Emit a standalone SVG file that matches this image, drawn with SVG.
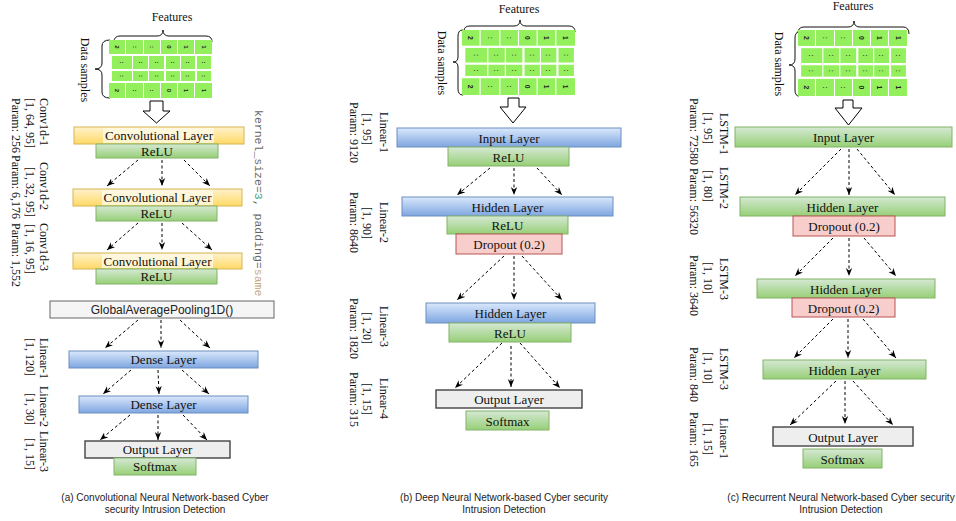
<svg xmlns="http://www.w3.org/2000/svg" width="956" height="521" viewBox="0 0 956 521">
<style>
.nt{font-family:"Liberation Serif","Times New Roman",serif;font-size:13px;fill:#111;text-anchor:middle}
.lb{font-family:"Liberation Serif","Times New Roman",serif;font-size:12px;fill:#111}
.ft{font-family:"Liberation Serif","Times New Roman",serif;font-size:12px;fill:#111;text-anchor:middle}
.cap{font-family:"Liberation Sans",Arial,sans-serif;font-size:10px;fill:#222;text-anchor:middle}
.cd{font-family:"Liberation Sans",Arial,sans-serif;font-size:6px;font-weight:bold;fill:#222;text-anchor:middle;dominant-baseline:central}
.cell{fill:#93f05c}
.brace{fill:none;stroke:#111;stroke-width:1}
.barrow{fill:#fff;stroke:#000;stroke-width:1}
.yel{fill:url(#gy);stroke:#d6b656}
.grn{fill:url(#gg);stroke:#82b366}
.blu{fill:url(#gb);stroke:#6c8ebf}
.red{fill:#f8cecc;stroke:#b85450}
.out{fill:#eeeeee;stroke:#444;stroke-width:1.4}
.gap{fill:#f5f5f5;stroke:#666}
.lbg{fill:#fffbea;opacity:0.75}
.con line{stroke:#000;stroke-width:1;stroke-dasharray:3 2.5;marker-end:url(#ah)}
.mono{font-family:"Liberation Mono","Courier New",monospace;font-size:11.5px;fill:#666}
</style>
<defs>
<linearGradient id="gy" x1="0" y1="0" x2="0" y2="1"><stop offset="0" stop-color="#fff2cc"/><stop offset="1" stop-color="#ffd966"/></linearGradient>
<linearGradient id="gg" x1="0" y1="0" x2="0" y2="1"><stop offset="0" stop-color="#d5e8d4"/><stop offset="1" stop-color="#97d077"/></linearGradient>
<linearGradient id="gb" x1="0" y1="0" x2="0" y2="1"><stop offset="0" stop-color="#dae8fc"/><stop offset="1" stop-color="#7ea6e0"/></linearGradient>
<marker id="ah" viewBox="0 0 10 10" refX="10" refY="5" markerWidth="8" markerHeight="8" orient="auto" markerUnits="userSpaceOnUse"><path d="M0,1 L10,5 L0,9 L3,5 z" fill="#000"/></marker>
</defs>
<rect width="956" height="521" fill="#fff"/>

<!-- ================= PANEL A ================= -->
<g id="a-input">
<text class="ft" x="172" y="21">Features</text>
<path class="brace" d="M114,42 Q114,36 120,36 L157,36 Q163,36 163,30 Q163,36 169,36 L206,36 Q212,36 212,42"/>
<path class="brace" d="M110,40 Q102,40 102,46 L102,63 Q102,69 95,69 Q102,69 102,75 L102,92 Q102,98 110,98"/>
<text class="ft" transform="translate(81,70) rotate(90)">Data samples</text>
<g transform="translate(109,40)">
<rect class="cell" x="0" y="0" width="16" height="14"/><rect class="cell" x="17" y="0" width="17" height="14"/><rect class="cell" x="35" y="0" width="16" height="14"/><rect class="cell" x="52" y="0" width="16" height="14"/><rect class="cell" x="69" y="0" width="16" height="14"/><rect class="cell" x="86" y="0" width="17" height="14"/>
<rect class="cell" x="3" y="16" width="20" height="13"/><rect class="cell" x="24" y="16" width="15" height="13"/><rect class="cell" x="40" y="16" width="15" height="13"/><rect class="cell" x="57" y="16" width="14" height="13"/><rect class="cell" x="72" y="16" width="14" height="13"/><rect class="cell" x="88" y="16" width="14" height="13"/>
<rect class="cell" x="3" y="31" width="20" height="10"/><rect class="cell" x="24" y="31" width="15" height="10"/><rect class="cell" x="40" y="31" width="15" height="10"/><rect class="cell" x="57" y="31" width="14" height="10"/><rect class="cell" x="72" y="31" width="14" height="10"/><rect class="cell" x="88" y="31" width="14" height="10"/>
<rect class="cell" x="0" y="43" width="16" height="15"/><rect class="cell" x="17" y="43" width="17" height="15"/><rect class="cell" x="35" y="43" width="16" height="15"/><rect class="cell" x="52" y="43" width="16" height="15"/><rect class="cell" x="69" y="43" width="16" height="15"/><rect class="cell" x="86" y="43" width="17" height="15"/>
<text class="cd" transform="translate(8,7) rotate(90)">2</text><text class="cd" transform="translate(25.5,7) rotate(90)">:</text><text class="cd" transform="translate(43,7) rotate(90)">:</text><text class="cd" transform="translate(60,7) rotate(90)">0</text><text class="cd" transform="translate(77,7) rotate(90)">1</text><text class="cd" transform="translate(94.5,7) rotate(90)">1</text>
<text class="cd" transform="translate(13,22.5) rotate(90)">:</text><text class="cd" transform="translate(31.5,22.5) rotate(90)">:</text><text class="cd" transform="translate(47.5,22.5) rotate(90)">:</text><text class="cd" transform="translate(64,22.5) rotate(90)">:</text><text class="cd" transform="translate(79,22.5) rotate(90)">:</text><text class="cd" transform="translate(95,22.5) rotate(90)">:</text>
<text class="cd" transform="translate(13,36) rotate(90)">:</text><text class="cd" transform="translate(31.5,36) rotate(90)">:</text><text class="cd" transform="translate(47.5,36) rotate(90)">:</text><text class="cd" transform="translate(64,36) rotate(90)">:</text><text class="cd" transform="translate(79,36) rotate(90)">:</text><text class="cd" transform="translate(95,36) rotate(90)">:</text>
<text class="cd" transform="translate(8,50.5) rotate(90)">2</text><text class="cd" transform="translate(25.5,50.5) rotate(90)">:</text><text class="cd" transform="translate(43,50.5) rotate(90)">:</text><text class="cd" transform="translate(60,50.5) rotate(90)">0</text><text class="cd" transform="translate(77,50.5) rotate(90)">1</text><text class="cd" transform="translate(94.5,50.5) rotate(90)">1</text>
</g>
<path class="barrow" d="M150,101 L163,101 L163,111 L170,111 L156.5,123 L143,111 L150,111 Z"/>
</g>

<g id="a-conv1"><rect class="yel" x="74" y="127" width="170" height="17"/><rect class="lbg" x="103" y="128" width="111" height="15"/><text class="nt" x="159" y="140">Convolutional Layer</text></g>
<g id="a-relu1"><rect class="grn" x="96" y="144" width="122" height="14"/><text class="nt" x="157" y="155.5">ReLU</text></g>
<g id="a-conv2"><rect class="yel" x="73" y="189" width="169" height="17"/><rect class="lbg" x="102" y="190" width="111" height="15"/><text class="nt" x="157.5" y="202">Convolutional Layer</text></g>
<g id="a-relu2"><rect class="grn" x="96" y="206" width="121" height="15"/><text class="nt" x="156.5" y="218">ReLU</text></g>
<g id="a-conv3"><rect class="yel" x="73" y="253" width="169" height="16"/><rect class="lbg" x="102" y="254" width="111" height="14"/><text class="nt" x="157.5" y="265.5">Convolutional Layer</text></g>
<g id="a-relu3"><rect class="grn" x="96" y="269" width="121" height="15"/><text class="nt" x="156.5" y="281">ReLU</text></g>
<g id="a-gap"><rect class="gap" x="50" y="301" width="224" height="17"/><text x="162" y="314" style="font-family:'Liberation Sans',Arial,sans-serif;font-size:12px;fill:#222;text-anchor:middle">GlobalAveragePooling1D()</text></g>
<g id="a-dense1"><rect class="blu" x="69" y="351" width="189" height="17"/><text class="nt" x="163.5" y="364">Dense Layer</text></g>
<g id="a-dense2"><rect class="blu" x="79" y="396" width="169" height="17"/><text class="nt" x="163.5" y="409">Dense Layer</text></g>
<g id="a-output"><rect class="out" x="85" y="441" width="145" height="17"/><text class="nt" x="157.5" y="454">Output Layer</text></g>
<g id="a-softmax"><rect class="grn" x="114" y="458" width="82" height="17"/><text class="nt" x="155" y="471">Softmax</text></g>

<g id="a-labels">
<text class="lb" transform="translate(39.5,98) rotate(90)">Conv1d-1</text>
<text class="lb" transform="translate(26,98) rotate(90)">[1, 64, 95]</text>
<text class="lb" transform="translate(12,98) rotate(90)">Param: 256</text>
<text class="lb" transform="translate(39.5,162) rotate(90)">Conv1d-2</text>
<text class="lb" transform="translate(26,167) rotate(90)">[1, 32, 95]</text>
<text class="lb" transform="translate(12,155) rotate(90)">Param: 6,176</text>
<text class="lb" transform="translate(39.5,223) rotate(90)">Conv1d-3</text>
<text class="lb" transform="translate(26,224) rotate(90)">[1, 16, 95]</text>
<text class="lb" transform="translate(12,223) rotate(90)">Param: 1,552</text>
<text class="lb" transform="translate(39.5,338) rotate(90)">Linear-1</text>
<text class="lb" transform="translate(26,338) rotate(90)">[1, 120]</text>
<text class="lb" transform="translate(39.5,386) rotate(90)">Linear-2</text>
<text class="lb" transform="translate(26,393) rotate(90)">[1, 30]</text>
<text class="lb" transform="translate(39.5,431) rotate(90)">Linear-3</text>
<text class="lb" transform="translate(26,438) rotate(90)">[1, 15]</text>
<text class="mono" transform="translate(255,110) rotate(90)">kernel_size=<tspan fill="#3aa58a">3</tspan>, padding=<tspan fill="#c4a679">same</tspan></text>
</g>
<text class="cap" x="165" y="501">(a) Convolutional Neural Network-based Cyber</text>
<text class="cap" x="165" y="513">security Intrusion Detection</text>

<!-- ================= PANEL B ================= -->
<g id="b-input">
<text class="ft" x="519" y="13">Features</text>
<path class="brace" d="M464,31 Q464,26 470,26 L514,26 Q520,26 520,20 Q520,26 526,26 L569,26 Q575,26 575,32"/>
<path class="brace" d="M463,30 Q458,30 458,36 L458,57 Q458,62 453,62 Q458,62 458,67 L458,89 Q458,95 463,95"/>
<text class="ft" transform="translate(438,63) rotate(90)">Data samples</text>
<g transform="translate(462,30) scale(1.097,1.121)">
<rect class="cell" x="0" y="0" width="16" height="14"/><rect class="cell" x="17" y="0" width="17" height="14"/><rect class="cell" x="35" y="0" width="16" height="14"/><rect class="cell" x="52" y="0" width="16" height="14"/><rect class="cell" x="69" y="0" width="16" height="14"/><rect class="cell" x="86" y="0" width="17" height="14"/>
<rect class="cell" x="3" y="16" width="20" height="13"/><rect class="cell" x="24" y="16" width="15" height="13"/><rect class="cell" x="40" y="16" width="15" height="13"/><rect class="cell" x="57" y="16" width="14" height="13"/><rect class="cell" x="72" y="16" width="14" height="13"/><rect class="cell" x="88" y="16" width="14" height="13"/>
<rect class="cell" x="3" y="31" width="20" height="10"/><rect class="cell" x="24" y="31" width="15" height="10"/><rect class="cell" x="40" y="31" width="15" height="10"/><rect class="cell" x="57" y="31" width="14" height="10"/><rect class="cell" x="72" y="31" width="14" height="10"/><rect class="cell" x="88" y="31" width="14" height="10"/>
<rect class="cell" x="0" y="43" width="16" height="15"/><rect class="cell" x="17" y="43" width="17" height="15"/><rect class="cell" x="35" y="43" width="16" height="15"/><rect class="cell" x="52" y="43" width="16" height="15"/><rect class="cell" x="69" y="43" width="16" height="15"/><rect class="cell" x="86" y="43" width="17" height="15"/>
<text class="cd" transform="translate(8,7) rotate(90)">2</text><text class="cd" transform="translate(25.5,7) rotate(90)">:</text><text class="cd" transform="translate(43,7) rotate(90)">:</text><text class="cd" transform="translate(60,7) rotate(90)">0</text><text class="cd" transform="translate(77,7) rotate(90)">1</text><text class="cd" transform="translate(94.5,7) rotate(90)">1</text>
<text class="cd" transform="translate(13,22.5) rotate(90)">:</text><text class="cd" transform="translate(31.5,22.5) rotate(90)">:</text><text class="cd" transform="translate(47.5,22.5) rotate(90)">:</text><text class="cd" transform="translate(64,22.5) rotate(90)">:</text><text class="cd" transform="translate(79,22.5) rotate(90)">:</text><text class="cd" transform="translate(95,22.5) rotate(90)">:</text>
<text class="cd" transform="translate(13,36) rotate(90)">:</text><text class="cd" transform="translate(31.5,36) rotate(90)">:</text><text class="cd" transform="translate(47.5,36) rotate(90)">:</text><text class="cd" transform="translate(64,36) rotate(90)">:</text><text class="cd" transform="translate(79,36) rotate(90)">:</text><text class="cd" transform="translate(95,36) rotate(90)">:</text>
<text class="cd" transform="translate(8,50.5) rotate(90)">2</text><text class="cd" transform="translate(25.5,50.5) rotate(90)">:</text><text class="cd" transform="translate(43,50.5) rotate(90)">:</text><text class="cd" transform="translate(60,50.5) rotate(90)">0</text><text class="cd" transform="translate(77,50.5) rotate(90)">1</text><text class="cd" transform="translate(94.5,50.5) rotate(90)">1</text>
</g>
<path class="barrow" d="M508,98 L519,98 L519,107 L526,107 L513,123 L500,107 L508,107 Z"/>
</g>

<g id="b-inputlayer"><rect class="blu" x="397" y="128" width="224" height="19"/><text class="nt" x="509" y="142.5">Input Layer</text></g>
<g id="b-relu1"><rect class="grn" x="448" y="147" width="121" height="19"/><text class="nt" x="508.5" y="161.5">ReLU</text></g>
<g id="b-hidden1"><rect class="blu" x="402" y="197" width="211" height="19"/><text class="nt" x="507.5" y="211.5">Hidden Layer</text></g>
<g id="b-relu2"><rect class="grn" x="447" y="216" width="121" height="18"/><text class="nt" x="507.5" y="230">ReLU</text></g>
<g id="b-dropout"><rect class="red" x="456" y="234" width="106" height="20"/><text class="nt" x="509" y="248.5">Dropout (0.2)</text></g>
<g id="b-hidden2"><rect class="blu" x="426" y="303" width="169" height="20"/><text class="nt" x="510.5" y="317.5">Hidden Layer</text></g>
<g id="b-relu3"><rect class="grn" x="449" y="323" width="122" height="19"/><text class="nt" x="510" y="337.5">ReLU</text></g>
<g id="b-output"><rect class="out" x="436" y="390" width="146" height="18"/><text class="nt" x="509" y="404">Output Layer</text></g>
<g id="b-softmax"><rect class="grn" x="466" y="411" width="83" height="19"/><text class="nt" x="507.5" y="425.5">Softmax</text></g>

<g id="b-labels">
<text class="lb" transform="translate(379.5,112) rotate(90)">Linear-1</text>
<text class="lb" transform="translate(363,113) rotate(90)">[1, 95]</text>
<text class="lb" transform="translate(350,102) rotate(90)">Param: 9120</text>
<text class="lb" transform="translate(379.5,202) rotate(90)">Linear-2</text>
<text class="lb" transform="translate(363,207) rotate(90)">[1, 90]</text>
<text class="lb" transform="translate(350,192) rotate(90)">Param: 8640</text>
<text class="lb" transform="translate(379.5,306) rotate(90)">Linear-3</text>
<text class="lb" transform="translate(363,312) rotate(90)">[1, 20]</text>
<text class="lb" transform="translate(350,298) rotate(90)">Param: 1820</text>
<text class="lb" transform="translate(379.5,378) rotate(90)">Linear-4</text>
<text class="lb" transform="translate(363,383) rotate(90)">[1, 15]</text>
<text class="lb" transform="translate(350,372) rotate(90)">Param: 315</text>
</g>
<text class="cap" x="504" y="501">(b) Deep Neural Network-based Cyber security</text>
<text class="cap" x="504" y="513">Intrusion Detection</text>

<!-- ================= PANEL C ================= -->
<g id="c-input">
<text class="ft" x="853" y="10">Features</text>
<path class="brace" d="M798,33 Q798,27 804,27 L848,27 Q854,27 854,21 Q854,27 860,27 L903,27 Q909,27 909,34"/>
<path class="brace" d="M799,32 Q795,32 795,38 L795,59 Q795,65 789,65 Q795,65 795,71 L795,90 Q795,96 799,96"/>
<text class="ft" transform="translate(775,64) rotate(90)">Data samples</text>
<g transform="translate(798,30) scale(1.058,1.138)">
<rect class="cell" x="0" y="0" width="16" height="14"/><rect class="cell" x="17" y="0" width="17" height="14"/><rect class="cell" x="35" y="0" width="16" height="14"/><rect class="cell" x="52" y="0" width="16" height="14"/><rect class="cell" x="69" y="0" width="16" height="14"/><rect class="cell" x="86" y="0" width="17" height="14"/>
<rect class="cell" x="3" y="16" width="20" height="13"/><rect class="cell" x="24" y="16" width="15" height="13"/><rect class="cell" x="40" y="16" width="15" height="13"/><rect class="cell" x="57" y="16" width="14" height="13"/><rect class="cell" x="72" y="16" width="14" height="13"/><rect class="cell" x="88" y="16" width="14" height="13"/>
<rect class="cell" x="3" y="31" width="20" height="10"/><rect class="cell" x="24" y="31" width="15" height="10"/><rect class="cell" x="40" y="31" width="15" height="10"/><rect class="cell" x="57" y="31" width="14" height="10"/><rect class="cell" x="72" y="31" width="14" height="10"/><rect class="cell" x="88" y="31" width="14" height="10"/>
<rect class="cell" x="0" y="43" width="16" height="15"/><rect class="cell" x="17" y="43" width="17" height="15"/><rect class="cell" x="35" y="43" width="16" height="15"/><rect class="cell" x="52" y="43" width="16" height="15"/><rect class="cell" x="69" y="43" width="16" height="15"/><rect class="cell" x="86" y="43" width="17" height="15"/>
<text class="cd" transform="translate(8,7) rotate(90)">2</text><text class="cd" transform="translate(25.5,7) rotate(90)">:</text><text class="cd" transform="translate(43,7) rotate(90)">:</text><text class="cd" transform="translate(60,7) rotate(90)">0</text><text class="cd" transform="translate(77,7) rotate(90)">1</text><text class="cd" transform="translate(94.5,7) rotate(90)">1</text>
<text class="cd" transform="translate(13,22.5) rotate(90)">:</text><text class="cd" transform="translate(31.5,22.5) rotate(90)">:</text><text class="cd" transform="translate(47.5,22.5) rotate(90)">:</text><text class="cd" transform="translate(64,22.5) rotate(90)">:</text><text class="cd" transform="translate(79,22.5) rotate(90)">:</text><text class="cd" transform="translate(95,22.5) rotate(90)">:</text>
<text class="cd" transform="translate(13,36) rotate(90)">:</text><text class="cd" transform="translate(31.5,36) rotate(90)">:</text><text class="cd" transform="translate(47.5,36) rotate(90)">:</text><text class="cd" transform="translate(64,36) rotate(90)">:</text><text class="cd" transform="translate(79,36) rotate(90)">:</text><text class="cd" transform="translate(95,36) rotate(90)">:</text>
<text class="cd" transform="translate(8,50.5) rotate(90)">2</text><text class="cd" transform="translate(25.5,50.5) rotate(90)">:</text><text class="cd" transform="translate(43,50.5) rotate(90)">:</text><text class="cd" transform="translate(60,50.5) rotate(90)">0</text><text class="cd" transform="translate(77,50.5) rotate(90)">1</text><text class="cd" transform="translate(94.5,50.5) rotate(90)">1</text>
</g>
<path class="barrow" d="M843,100 L853,100 L853,108 L862,108 L848.5,125 L835,108 L843,108 Z"/>
</g>

<g id="c-inputlayer"><rect class="grn" x="735" y="127" width="217" height="20"/><text class="nt" x="843.5" y="141.5">Input Layer</text></g>
<g id="c-hidden1"><rect class="grn" x="740" y="197" width="205" height="19"/><text class="nt" x="842.5" y="211.5">Hidden Layer</text></g>
<g id="c-dropout1"><rect class="red" x="793" y="216" width="102" height="20"/><text class="nt" x="844" y="230.5">Dropout (0.2)</text></g>
<g id="c-hidden2"><rect class="grn" x="757" y="279" width="178" height="19"/><text class="nt" x="846" y="293.5">Hidden Layer</text></g>
<g id="c-dropout2"><rect class="red" x="792" y="298" width="103" height="19"/><text class="nt" x="843.5" y="312.5">Dropout (0.2)</text></g>
<g id="c-hidden3"><rect class="grn" x="763" y="360" width="163" height="19"/><text class="nt" x="844.5" y="374.5">Hidden Layer</text></g>
<g id="c-output"><rect class="out" x="773" y="427" width="140" height="19"/><text class="nt" x="843" y="441.5">Output Layer</text></g>
<g id="c-softmax"><rect class="grn" x="803" y="449" width="79" height="19"/><text class="nt" x="842.5" y="463.5">Softmax</text></g>

<g id="c-labels">
<text class="lb" transform="translate(720,113) rotate(90)">LSTM-1</text>
<text class="lb" transform="translate(704,112) rotate(90)">[1, 95]</text>
<text class="lb" transform="translate(690,98) rotate(90)">Param: 72580</text>
<text class="lb" transform="translate(720,167) rotate(90)">LSTM-2</text>
<text class="lb" transform="translate(704,170) rotate(90)">[1, 80]</text>
<text class="lb" transform="translate(690,168) rotate(90)">Param: 56320</text>
<text class="lb" transform="translate(720,258) rotate(90)">LSTM-3</text>
<text class="lb" transform="translate(704,262) rotate(90)">[1, 10]</text>
<text class="lb" transform="translate(690,255) rotate(90)">Param: 3640</text>
<text class="lb" transform="translate(720,348) rotate(90)">LSTM-3</text>
<text class="lb" transform="translate(704,352) rotate(90)">[1, 10]</text>
<text class="lb" transform="translate(690,347) rotate(90)">Param: 840</text>
<text class="lb" transform="translate(720,418) rotate(90)">Linear-1</text>
<text class="lb" transform="translate(704,423) rotate(90)">[1, 15]</text>
<text class="lb" transform="translate(690,412) rotate(90)">Param: 165</text>
</g>
<text class="cap" x="841" y="501">(c) Recurrent Neural Network-based Cyber security</text>
<text class="cap" x="841" y="513">Intrusion Detection</text>

<!-- ================= CONNECTORS ================= -->
<g id="connectors" class="con">
<line x1="138" y1="160" x2="107" y2="186"/><line x1="162" y1="160" x2="162" y2="186"/><line x1="184" y1="160" x2="210" y2="186"/>
<line x1="138" y1="223" x2="107" y2="250"/><line x1="162" y1="223" x2="162" y2="250"/><line x1="182" y1="223" x2="212" y2="250"/>
<line x1="138" y1="320" x2="105" y2="348"/><line x1="161" y1="320" x2="161" y2="348"/><line x1="180" y1="320" x2="210" y2="348"/>
<line x1="131" y1="370" x2="103" y2="394"/><line x1="158" y1="370" x2="159" y2="394"/><line x1="182" y1="370" x2="209" y2="394"/>
<line x1="130" y1="415" x2="100" y2="440"/><line x1="158" y1="415" x2="158" y2="440"/><line x1="183" y1="415" x2="207" y2="440"/>

<line x1="490" y1="168" x2="457" y2="195"/><line x1="514" y1="168" x2="514" y2="195"/><line x1="537" y1="168" x2="562" y2="195"/>
<line x1="504" y1="256" x2="457" y2="300"/><line x1="514" y1="256" x2="514" y2="300"/><line x1="522" y1="256" x2="562" y2="300"/>
<line x1="502" y1="343" x2="455" y2="388"/><line x1="511" y1="346" x2="511" y2="387"/><line x1="520" y1="343" x2="560" y2="388"/>

<line x1="841" y1="149" x2="795" y2="195"/><line x1="849" y1="149" x2="849" y2="195"/><line x1="857" y1="149" x2="895" y2="195"/>
<line x1="833" y1="238" x2="795" y2="276"/><line x1="849" y1="238" x2="849" y2="276"/><line x1="864" y1="238" x2="896" y2="276"/>
<line x1="833" y1="319" x2="794" y2="358"/><line x1="848" y1="319" x2="848" y2="358"/><line x1="863" y1="319" x2="896" y2="358"/>
<line x1="836" y1="381" x2="790" y2="425"/><line x1="845" y1="381" x2="845" y2="424"/><line x1="853" y1="381" x2="893" y2="425"/>
</g>
</svg>
